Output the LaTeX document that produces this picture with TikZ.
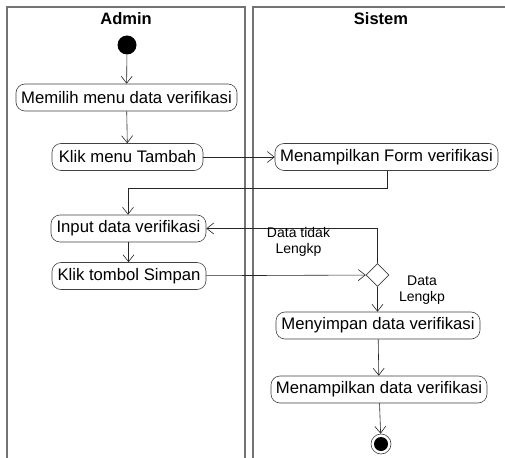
\documentclass[tikz,border=0pt]{standalone}
\usepackage{fontspec}
\setmainfont{Liberation Sans}
\usetikzlibrary{arrows.meta,shapes.geometric}
\begin{document}
\begin{tikzpicture}[x=1pt,y=-1pt,
  lane/.style={draw=black!55,line width=1.5pt},
  act/.style={draw=black!75,line width=0.6pt,rounded corners=9pt,minimum height=27pt,
    inner xsep=4pt,font=\fontsize{16.7}{18}\selectfont,anchor=center},
  flow/.style={draw=black!85,line width=0.6pt,-{Straight Barb[length=7pt,width=11pt,line width=0.6pt]}},
  guard/.style={font=\fontsize{14}{16}\selectfont,align=center,inner sep=0pt},
  head/.style={font=\fontsize{16.5}{18}\selectfont\bfseries}]
\useasboundingbox (0,0) rectangle (505,457);
\fill[white] (0,0) rectangle (505,457);
% swimlanes
\draw[lane] (7,470) -- (7,7) -- (245,7) -- (245,470);
\draw[lane] (253,470) -- (253,7) -- (520,7);
\node[head] (hadmin) at (126,19) {Admin};
\node[head] (hsistem) at (381,19) {Sistem};
% initial and final states
\node[circle,fill=black,minimum size=19pt,inner sep=0pt] (start) at (127,45) {};
\node[circle,draw=black!75,line width=0.6pt,minimum size=20pt,inner sep=0pt] (endo) at (381,444) {};
\node[circle,fill=black,minimum size=14pt,inner sep=0pt] (endi) at (381,444) {};
% activities
\node[act,minimum width=221pt] (pilih) at (126.5,97.5) {Memilih menu data verifikasi};
\node[act,minimum width=151pt] (tambah) at (127.5,157) {Klik menu Tambah};
\node[act,minimum width=223pt] (form) at (386.5,157) {Menampilkan Form verifikasi};
\node[act,minimum width=155pt] (input) at (128.5,228.5) {Input data verifikasi};
\node[act,minimum width=154pt] (simpan) at (129,276) {Klik tombol Simpan};
\node[diamond,draw=black!75,line width=0.6pt,minimum width=23pt,minimum height=23pt,inner sep=0pt] (cek) at (377.5,275) {};
\node[act,minimum width=204pt] (menyimpan) at (378,325.5) {Menyimpan data verifikasi};
\node[act,minimum width=216pt] (tampil) at (379,389.5) {Menampilkan data verifikasi};
\coordinate (bend1) at (387,188);
\coordinate (bend2) at (128,188);
\coordinate (bend3) at (377.5,228.5);
% flows
\draw[flow] (start) -- (pilih);
\draw[flow] (pilih) -- (tambah);
\draw[flow] (tambah) -- (form);
\draw[flow] (form.south -| bend1) -- (bend1) -- (bend2) -- (input.north -| bend2);
\draw[flow] (input) -- (input.south |- simpan.north);
\draw[flow] (simpan) -- (cek);
\draw[flow] (cek.north) -- (bend3) -- (input.east);
\draw[flow] (cek.south) -- (cek.south |- menyimpan.north);
\draw[flow] (menyimpan) -- (tampil);
\draw[flow] (tampil) -- (endo);
% guards
\node[guard] (g1) at (298.5,241.5) {Data tidak\\Lengkp};
\node[guard] (g2) at (422,290) {Data\\Lengkp};
\end{tikzpicture}
\end{document}
